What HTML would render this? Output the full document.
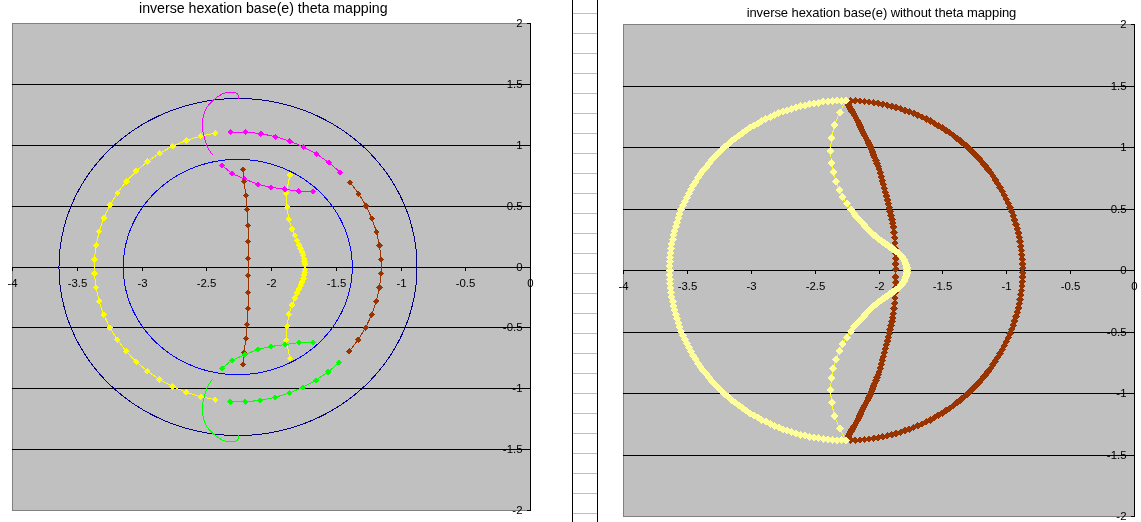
<!DOCTYPE html>
<html><head><meta charset="utf-8"><title>inverse hexation charts</title>
<style>html,body{margin:0;padding:0;background:#fff;overflow:hidden}svg text{font-family:"Liberation Sans", Arial, sans-serif}</style>
</head><body>
<svg width="1141" height="522" viewBox="0 0 1141 522" style="display:block">
<rect width="1141" height="522" fill="#fff"/>
<rect x="573" y="13" width="24" height="1" fill="#c0c0c0"/>
<rect x="573" y="33" width="24" height="1" fill="#c0c0c0"/>
<rect x="573" y="53" width="24" height="1" fill="#c0c0c0"/>
<rect x="573" y="73" width="24" height="1" fill="#c0c0c0"/>
<rect x="573" y="93" width="24" height="1" fill="#c0c0c0"/>
<rect x="573" y="113" width="24" height="1" fill="#c0c0c0"/>
<rect x="573" y="133" width="24" height="1" fill="#c0c0c0"/>
<rect x="573" y="153" width="24" height="1" fill="#c0c0c0"/>
<rect x="573" y="173" width="24" height="1" fill="#c0c0c0"/>
<rect x="573" y="193" width="24" height="1" fill="#c0c0c0"/>
<rect x="573" y="213" width="24" height="1" fill="#c0c0c0"/>
<rect x="573" y="233" width="24" height="1" fill="#c0c0c0"/>
<rect x="573" y="253" width="24" height="1" fill="#c0c0c0"/>
<rect x="573" y="273" width="24" height="1" fill="#c0c0c0"/>
<rect x="573" y="293" width="24" height="1" fill="#c0c0c0"/>
<rect x="573" y="313" width="24" height="1" fill="#c0c0c0"/>
<rect x="573" y="333" width="24" height="1" fill="#c0c0c0"/>
<rect x="573" y="353" width="24" height="1" fill="#c0c0c0"/>
<rect x="573" y="373" width="24" height="1" fill="#c0c0c0"/>
<rect x="573" y="393" width="24" height="1" fill="#c0c0c0"/>
<rect x="573" y="413" width="24" height="1" fill="#c0c0c0"/>
<rect x="573" y="433" width="24" height="1" fill="#c0c0c0"/>
<rect x="573" y="453" width="24" height="1" fill="#c0c0c0"/>
<rect x="573" y="473" width="24" height="1" fill="#c0c0c0"/>
<rect x="573" y="493" width="24" height="1" fill="#c0c0c0"/>
<rect x="573" y="513" width="24" height="1" fill="#c0c0c0"/>
<rect x="572" y="0" width="1" height="522" fill="#000"/>
<rect x="597" y="0" width="1" height="522" fill="#000"/>
<rect x="12" y="23" width="519" height="488" fill="#c0c0c0"/>
<rect x="12" y="23" width="519" height="1" fill="#808080"/>
<rect x="12" y="510" width="519" height="1" fill="#808080"/>
<rect x="12" y="23" width="1" height="488" fill="#808080"/>
<rect x="12" y="84" width="519" height="1" fill="#000"/>
<rect x="12" y="145" width="519" height="1" fill="#000"/>
<rect x="12" y="206" width="519" height="1" fill="#000"/>
<rect x="12" y="267" width="519" height="1" fill="#000"/>
<rect x="12" y="327" width="519" height="1" fill="#000"/>
<rect x="12" y="388" width="519" height="1" fill="#000"/>
<rect x="12" y="449" width="519" height="1" fill="#000"/>
<rect x="530" y="23" width="1" height="488" fill="#000"/>
<rect x="527" y="23" width="4" height="1" fill="#000"/>
<rect x="527" y="84" width="4" height="1" fill="#000"/>
<rect x="527" y="145" width="4" height="1" fill="#000"/>
<rect x="527" y="206" width="4" height="1" fill="#000"/>
<rect x="527" y="267" width="4" height="1" fill="#000"/>
<rect x="527" y="327" width="4" height="1" fill="#000"/>
<rect x="527" y="388" width="4" height="1" fill="#000"/>
<rect x="527" y="449" width="4" height="1" fill="#000"/>
<rect x="527" y="510" width="4" height="1" fill="#000"/>
<rect x="12" y="267" width="1" height="4" fill="#000"/>
<rect x="77" y="267" width="1" height="4" fill="#000"/>
<rect x="142" y="267" width="1" height="4" fill="#000"/>
<rect x="206" y="267" width="1" height="4" fill="#000"/>
<rect x="271" y="267" width="1" height="4" fill="#000"/>
<rect x="336" y="267" width="1" height="4" fill="#000"/>
<rect x="401" y="267" width="1" height="4" fill="#000"/>
<rect x="465" y="267" width="1" height="4" fill="#000"/>
<rect x="530" y="267" width="1" height="4" fill="#000"/>
<polyline points="417,267 416.94,262.59 416.75,258.18 416.45,253.78 416.02,249.39 415.47,245.01 414.8,240.64 414,236.29 413.09,231.97 412.05,227.66 410.9,223.39 409.63,219.14 408.24,214.93 406.73,210.75 405.11,206.62 403.37,202.52 401.52,198.46 399.56,194.46 397.49,190.5 395.31,186.6 393.02,182.75 390.62,178.96 388.12,175.23 385.52,171.56 382.81,167.96 380.01,164.42 377.11,160.96 374.11,157.57 371.02,154.25 367.84,151.01 364.57,147.85 361.22,144.77 357.77,141.78 354.25,138.87 350.65,136.05 346.97,133.32 343.21,130.68 339.39,128.13 335.49,125.68 331.53,123.33 327.5,121.07 323.41,118.92 319.26,116.87 315.06,114.91 310.81,113.07 306.5,111.33 302.15,109.69 297.75,108.16 293.31,106.75 288.84,105.44 284.33,104.24 279.79,103.16 275.22,102.18 270.62,101.32 266,100.57 261.36,99.94 256.71,99.42 252.04,99.02 247.37,98.73 242.69,98.56 238,98.5 233.31,98.56 228.63,98.73 223.96,99.02 219.29,99.42 214.64,99.94 210,100.57 205.38,101.32 200.78,102.18 196.21,103.16 191.67,104.24 187.16,105.44 182.69,106.75 178.25,108.16 173.85,109.69 169.5,111.33 165.19,113.07 160.94,114.91 156.74,116.87 152.59,118.92 148.5,121.07 144.47,123.33 140.51,125.68 136.61,128.13 132.79,130.68 129.03,133.32 125.35,136.05 121.75,138.87 118.23,141.78 114.78,144.77 111.43,147.85 108.16,151.01 104.98,154.25 101.89,157.57 98.89,160.96 95.99,164.42 93.19,167.96 90.48,171.56 87.88,175.23 85.38,178.96 82.98,182.75 80.69,186.6 78.51,190.5 76.44,194.46 74.48,198.46 72.63,202.52 70.89,206.62 69.27,210.75 67.76,214.93 66.37,219.14 65.1,223.39 63.95,227.66 62.91,231.97 62,236.29 61.2,240.64 60.53,245.01 59.98,249.39 59.55,253.78 59.25,258.18 59.06,262.59 59,267 59.06,271.41 59.25,275.82 59.55,280.22 59.98,284.61 60.53,288.99 61.2,293.36 62,297.71 62.91,302.03 63.95,306.34 65.1,310.61 66.37,314.86 67.76,319.07 69.27,323.25 70.89,327.38 72.63,331.48 74.48,335.54 76.44,339.54 78.51,343.5 80.69,347.4 82.98,351.25 85.38,355.04 87.88,358.77 90.48,362.44 93.19,366.04 95.99,369.58 98.89,373.04 101.89,376.43 104.98,379.75 108.16,382.99 111.43,386.15 114.78,389.23 118.23,392.22 121.75,395.13 125.35,397.95 129.03,400.68 132.79,403.32 136.61,405.87 140.51,408.32 144.47,410.67 148.5,412.93 152.59,415.08 156.74,417.13 160.94,419.09 165.19,420.93 169.5,422.67 173.85,424.31 178.25,425.84 182.69,427.25 187.16,428.56 191.67,429.76 196.21,430.84 200.78,431.82 205.38,432.68 210,433.43 214.64,434.06 219.29,434.58 223.96,434.98 228.63,435.27 233.31,435.44 238,435.5 242.69,435.44 247.37,435.27 252.04,434.98 256.71,434.58 261.36,434.06 266,433.43 270.62,432.68 275.22,431.82 279.79,430.84 284.33,429.76 288.84,428.56 293.31,427.25 297.75,425.84 302.15,424.31 306.5,422.67 310.81,420.93 315.06,419.09 319.26,417.13 323.41,415.08 327.5,412.93 331.53,410.67 335.49,408.32 339.39,405.87 343.21,403.32 346.97,400.68 350.65,397.95 354.25,395.13 357.77,392.22 361.22,389.23 364.57,386.15 367.84,382.99 371.02,379.75 374.11,376.43 377.11,373.04 380.01,369.58 382.81,366.04 385.52,362.44 388.12,358.77 390.62,355.04 393.02,351.25 395.31,347.4 397.49,343.5 399.56,339.54 401.52,335.54 403.37,331.48 405.11,327.38 406.73,323.25 408.24,319.07 409.63,314.86 410.9,310.61 412.05,306.34 413.09,302.03 414,297.71 414.8,293.36 415.47,288.99 416.02,284.61 416.45,280.22 416.75,275.82 416.94,271.41 417,267" fill="none" stroke="#000080" stroke-width="1" shape-rendering="crispEdges"/>
<polyline points="352.25,267 352.18,263.24 351.97,259.49 351.62,255.75 351.14,252.02 350.51,248.31 349.75,244.62 348.85,240.96 347.81,237.33 346.65,233.74 345.34,230.18 343.91,226.67 342.35,223.22 340.66,219.81 338.85,216.46 336.91,213.18 334.85,209.96 332.67,206.8 330.38,203.73 327.98,200.73 325.46,197.81 322.84,194.97 320.11,192.22 317.29,189.56 314.37,187 311.35,184.54 308.24,182.17 305.05,179.91 301.78,177.76 298.43,175.71 295,173.77 291.5,171.95 287.94,170.25 284.32,168.66 280.64,167.19 276.91,165.84 273.13,164.62 269.31,163.52 265.45,162.55 261.56,161.7 257.63,160.99 253.69,160.4 249.72,159.94 245.74,159.61 241.75,159.42 237.75,159.35 233.75,159.42 229.76,159.61 225.78,159.94 221.81,160.4 217.87,160.99 213.94,161.7 210.05,162.55 206.19,163.52 202.37,164.62 198.59,165.84 194.86,167.19 191.18,168.66 187.56,170.25 184,171.95 180.5,173.77 177.07,175.71 173.72,177.76 170.45,179.91 167.26,182.17 164.15,184.54 161.13,187 158.21,189.56 155.39,192.22 152.66,194.97 150.04,197.81 147.52,200.73 145.12,203.73 142.83,206.8 140.65,209.96 138.59,213.18 136.65,216.46 134.84,219.81 133.15,223.22 131.59,226.67 130.16,230.18 128.85,233.74 127.69,237.33 126.65,240.96 125.75,244.62 124.99,248.31 124.36,252.02 123.88,255.75 123.53,259.49 123.32,263.24 123.25,267 123.32,270.76 123.53,274.51 123.88,278.25 124.36,281.98 124.99,285.69 125.75,289.38 126.65,293.04 127.69,296.67 128.85,300.26 130.16,303.82 131.59,307.33 133.15,310.78 134.84,314.19 136.65,317.54 138.59,320.82 140.65,324.04 142.83,327.2 145.12,330.27 147.52,333.27 150.04,336.19 152.66,339.03 155.39,341.78 158.21,344.44 161.13,347 164.15,349.46 167.26,351.83 170.45,354.09 173.72,356.24 177.07,358.29 180.5,360.23 184,362.05 187.56,363.75 191.18,365.34 194.86,366.81 198.59,368.16 202.37,369.38 206.19,370.48 210.05,371.45 213.94,372.3 217.87,373.01 221.81,373.6 225.78,374.06 229.76,374.39 233.75,374.58 237.75,374.65 241.75,374.58 245.74,374.39 249.72,374.06 253.69,373.6 257.63,373.01 261.56,372.3 265.45,371.45 269.31,370.48 273.13,369.38 276.91,368.16 280.64,366.81 284.32,365.34 287.94,363.75 291.5,362.05 295,360.23 298.43,358.29 301.78,356.24 305.05,354.09 308.24,351.83 311.35,349.46 314.37,347 317.29,344.44 320.11,341.78 322.84,339.03 325.46,336.19 327.98,333.27 330.38,330.27 332.67,327.2 334.85,324.04 336.91,320.82 338.85,317.54 340.66,314.19 342.35,310.78 343.91,307.33 345.34,303.82 346.65,300.26 347.81,296.67 348.85,293.04 349.75,289.38 350.51,285.69 351.14,281.98 351.62,278.25 351.97,274.51 352.18,270.76 352.25,267" fill="none" stroke="#0000ff" stroke-width="1" shape-rendering="crispEdges"/>
<polyline points="215.3,133.15 200.61,136.08 186.32,140.45 172.6,146.19 159.59,153.25 147.44,161.55 136.28,171 126.23,181.5 117.4,192.92 109.89,205.15 103.78,218.05 99.14,231.48 96.02,245.3 94.45,259.34 94.45,273.46 96.02,287.5 99.14,301.32 103.78,314.75 109.89,327.65 117.4,339.88 126.23,351.3 136.28,361.8 147.44,371.25 159.59,379.55 172.6,386.61 186.32,392.35 200.61,396.72 215.3,399.65" fill="none" stroke="#ffff00" stroke-width="1" shape-rendering="crispEdges"/>
<polyline points="289.9,175.2 286.2,193.4 287.1,207.4 288.8,219.4 291.9,228.9 295,235.6 297,240.6 299,245 300.6,248.6 302,252 303.3,255.3 304.1,258.7 304.7,261.5 305,264.3 305,269.5 304.7,272.3 304.1,275.1 303.3,278.5 302,281.8 300.6,285.2 299,288.8 297,293.2 295,298.2 291.9,304.9 288.8,314.4 287.1,326.4 286.2,340.4 289.9,358.6" fill="none" stroke="#ffff00" stroke-width="1" shape-rendering="crispEdges"/>
<path d="M212 133.15L215.3 129.85L218.6 133.15L215.3 136.45ZM197.31 136.08L200.61 132.78L203.91 136.08L200.61 139.38ZM183.02 140.45L186.32 137.15L189.62 140.45L186.32 143.75ZM169.3 146.19L172.6 142.89L175.9 146.19L172.6 149.49ZM156.29 153.25L159.59 149.95L162.89 153.25L159.59 156.55ZM144.14 161.55L147.44 158.25L150.74 161.55L147.44 164.85ZM132.98 171L136.28 167.7L139.58 171L136.28 174.3ZM122.93 181.5L126.23 178.2L129.53 181.5L126.23 184.8ZM114.1 192.92L117.4 189.62L120.7 192.92L117.4 196.22ZM106.59 205.15L109.89 201.85L113.19 205.15L109.89 208.45ZM100.48 218.05L103.78 214.75L107.08 218.05L103.78 221.35ZM95.84 231.48L99.14 228.18L102.44 231.48L99.14 234.78ZM92.72 245.3L96.02 242L99.32 245.3L96.02 248.6ZM91.15 259.34L94.45 256.04L97.75 259.34L94.45 262.64ZM91.15 273.46L94.45 270.16L97.75 273.46L94.45 276.76ZM92.72 287.5L96.02 284.2L99.32 287.5L96.02 290.8ZM95.84 301.32L99.14 298.02L102.44 301.32L99.14 304.62ZM100.48 314.75L103.78 311.45L107.08 314.75L103.78 318.05ZM106.59 327.65L109.89 324.35L113.19 327.65L109.89 330.95ZM114.1 339.88L117.4 336.58L120.7 339.88L117.4 343.18ZM122.93 351.3L126.23 348L129.53 351.3L126.23 354.6ZM132.98 361.8L136.28 358.5L139.58 361.8L136.28 365.1ZM144.14 371.25L147.44 367.95L150.74 371.25L147.44 374.55ZM156.29 379.55L159.59 376.25L162.89 379.55L159.59 382.85ZM169.3 386.61L172.6 383.31L175.9 386.61L172.6 389.91ZM183.02 392.35L186.32 389.05L189.62 392.35L186.32 395.65ZM197.31 396.72L200.61 393.42L203.91 396.72L200.61 400.02ZM212 399.65L215.3 396.35L218.6 399.65L215.3 402.95ZM286.6 175.2L289.9 171.9L293.2 175.2L289.9 178.5ZM282.9 193.4L286.2 190.1L289.5 193.4L286.2 196.7ZM283.8 207.4L287.1 204.1L290.4 207.4L287.1 210.7ZM285.5 219.4L288.8 216.1L292.1 219.4L288.8 222.7ZM288.6 228.9L291.9 225.6L295.2 228.9L291.9 232.2ZM291.7 235.6L295 232.3L298.3 235.6L295 238.9ZM293.7 240.6L297 237.3L300.3 240.6L297 243.9ZM295.7 245L299 241.7L302.3 245L299 248.3ZM297.3 248.6L300.6 245.3L303.9 248.6L300.6 251.9ZM298.7 252L302 248.7L305.3 252L302 255.3ZM300 255.3L303.3 252L306.6 255.3L303.3 258.6ZM300.8 258.7L304.1 255.4L307.4 258.7L304.1 262ZM301.4 261.5L304.7 258.2L308 261.5L304.7 264.8ZM301.7 264.3L305 261L308.3 264.3L305 267.6ZM301.7 269.5L305 266.2L308.3 269.5L305 272.8ZM301.4 272.3L304.7 269L308 272.3L304.7 275.6ZM300.8 275.1L304.1 271.8L307.4 275.1L304.1 278.4ZM300 278.5L303.3 275.2L306.6 278.5L303.3 281.8ZM298.7 281.8L302 278.5L305.3 281.8L302 285.1ZM297.3 285.2L300.6 281.9L303.9 285.2L300.6 288.5ZM295.7 288.8L299 285.5L302.3 288.8L299 292.1ZM293.7 293.2L297 289.9L300.3 293.2L297 296.5ZM291.7 298.2L295 294.9L298.3 298.2L295 301.5ZM288.6 304.9L291.9 301.6L295.2 304.9L291.9 308.2ZM285.5 314.4L288.8 311.1L292.1 314.4L288.8 317.7ZM283.8 326.4L287.1 323.1L290.4 326.4L287.1 329.7ZM282.9 340.4L286.2 337.1L289.5 340.4L286.2 343.7ZM286.6 358.6L289.9 355.3L293.2 358.6L289.9 361.9Z" fill="#ffff00" shape-rendering="crispEdges"/>
<polyline points="340.1,172.24 328.93,162.62 316.74,154.17 303.68,146.97 289.88,141.1 275.49,136.64 260.69,133.62 245.64,132.09 230.49,132.06" fill="none" stroke="#ff00ff" stroke-width="1" shape-rendering="crispEdges"/>
<polyline points="221.9,165.4 232,173.5 244.7,179.1 257.9,184.3 270.9,187.3 284.9,189.2 298.8,191.2 313,191.3" fill="none" stroke="#ff00ff" stroke-width="1" shape-rendering="crispEdges"/>
<path d="M337 172.24L340.1 169.14L343.2 172.24L340.1 175.34ZM325.83 162.62L328.93 159.52L332.03 162.62L328.93 165.72ZM313.64 154.17L316.74 151.07L319.84 154.17L316.74 157.27ZM300.58 146.97L303.68 143.87L306.78 146.97L303.68 150.07ZM286.78 141.1L289.88 138L292.98 141.1L289.88 144.2ZM272.39 136.64L275.49 133.54L278.59 136.64L275.49 139.74ZM257.59 133.62L260.69 130.52L263.79 133.62L260.69 136.72ZM242.54 132.09L245.64 128.99L248.74 132.09L245.64 135.19ZM227.39 132.06L230.49 128.96L233.59 132.06L230.49 135.16ZM218.8 165.4L221.9 162.3L225 165.4L221.9 168.5ZM228.9 173.5L232 170.4L235.1 173.5L232 176.6ZM241.6 179.1L244.7 176L247.8 179.1L244.7 182.2ZM254.8 184.3L257.9 181.2L261 184.3L257.9 187.4ZM267.8 187.3L270.9 184.2L274 187.3L270.9 190.4ZM281.8 189.2L284.9 186.1L288 189.2L284.9 192.3ZM295.7 191.2L298.8 188.1L301.9 191.2L298.8 194.3ZM309.9 191.3L313 188.2L316.1 191.3L313 194.4Z" fill="#ff00ff" shape-rendering="crispEdges"/>
<polyline points="238,98.6 238.51,97.65 238.65,96.65 238.46,95.67 238.01,94.75 237.36,93.95 236.56,93.32 235.65,92.86 234.69,92.54 233.7,92.36 232.69,92.27 231.69,92.26 230.67,92.28 229.66,92.31 228.64,92.35 227.64,92.41 226.64,92.52 225.66,92.72 224.69,93 223.75,93.36 222.81,93.76 221.9,94.2 221,94.66 220.12,95.15 219.26,95.67 218.42,96.22 217.6,96.8 216.8,97.41 216.01,98.03 215.23,98.67 214.46,99.32 213.69,99.98 212.92,100.64 212.16,101.31 211.41,102 210.68,102.69 209.97,103.41 209.29,104.15 208.65,104.92 208.04,105.71 207.47,106.54 206.94,107.4 206.44,108.27 205.97,109.17 205.53,110.09 205.12,111.02 204.74,111.96 204.38,112.9 204.04,113.86 203.74,114.82 203.47,115.8 203.23,116.77 203.03,117.76 202.86,118.75 202.74,119.75 202.65,120.75 202.58,121.76 202.54,122.76 202.51,123.77 202.48,124.78 202.47,125.79 202.47,126.8 202.51,127.81 202.58,128.81 202.7,129.81 202.86,130.8 203.04,131.79 203.25,132.78 203.46,133.77 203.67,134.76 203.88,135.74 204.1,136.72 204.33,137.7 204.57,138.68 204.83,139.65 205.11,140.62 205.4,141.59 205.72,142.54 206.06,143.49 206.41,144.44 206.8,145.37 207.2,146.29 207.63,147.21 208.09,148.11 208.57,148.99 209.07,149.86 209.61,150.72 210.17,151.55 210.76,152.37 211.38,153.17 212.02,153.95 212.7,154.7" fill="none" stroke="#ff00ff" stroke-width="1" shape-rendering="crispEdges"/>
<polyline points="349.27,351.3 358.1,339.88 365.61,327.65 371.72,314.75 376.36,301.32 379.48,287.5 381.05,273.46 381.05,259.34 379.52,245.53 376.49,231.94 371.99,218.71 366.06,205.99 358.78,193.91 350.21,182.6" fill="none" stroke="#993300" stroke-width="1" shape-rendering="crispEdges"/>
<polyline points="243,169.5 244,181.5 245.9,195.3 247,209.4 248.05,225.5 248.05,241.5 248.05,258.4 248.05,275.4 248.05,292.3 248.05,308.3 247,324.4 245.9,338.5 244,352.3 243,364.3" fill="none" stroke="#993300" stroke-width="1" shape-rendering="crispEdges"/>
<path d="M346.17 351.3L349.27 348.2L352.37 351.3L349.27 354.4ZM355 339.88L358.1 336.78L361.2 339.88L358.1 342.98ZM362.51 327.65L365.61 324.55L368.71 327.65L365.61 330.75ZM368.62 314.75L371.72 311.65L374.82 314.75L371.72 317.85ZM373.26 301.32L376.36 298.22L379.46 301.32L376.36 304.42ZM376.38 287.5L379.48 284.4L382.58 287.5L379.48 290.6ZM377.95 273.46L381.05 270.36L384.15 273.46L381.05 276.56ZM377.95 259.34L381.05 256.24L384.15 259.34L381.05 262.44ZM376.42 245.53L379.52 242.43L382.62 245.53L379.52 248.63ZM373.39 231.94L376.49 228.84L379.59 231.94L376.49 235.04ZM368.89 218.71L371.99 215.61L375.09 218.71L371.99 221.81ZM362.96 205.99L366.06 202.89L369.16 205.99L366.06 209.09ZM355.68 193.91L358.78 190.81L361.88 193.91L358.78 197.01ZM347.11 182.6L350.21 179.5L353.31 182.6L350.21 185.7ZM239.9 169.5L243 166.4L246.1 169.5L243 172.6ZM240.9 181.5L244 178.4L247.1 181.5L244 184.6ZM242.8 195.3L245.9 192.2L249 195.3L245.9 198.4ZM243.9 209.4L247 206.3L250.1 209.4L247 212.5ZM244.95 225.5L248.05 222.4L251.15 225.5L248.05 228.6ZM244.95 241.5L248.05 238.4L251.15 241.5L248.05 244.6ZM244.95 258.4L248.05 255.3L251.15 258.4L248.05 261.5ZM244.95 275.4L248.05 272.3L251.15 275.4L248.05 278.5ZM244.95 292.3L248.05 289.2L251.15 292.3L248.05 295.4ZM244.95 308.3L248.05 305.2L251.15 308.3L248.05 311.4ZM243.9 324.4L247 321.3L250.1 324.4L247 327.5ZM242.8 338.5L245.9 335.4L249 338.5L245.9 341.6ZM240.9 352.3L244 349.2L247.1 352.3L244 355.4ZM239.9 364.3L243 361.2L246.1 364.3L243 367.4Z" fill="#993300" shape-rendering="crispEdges"/>
<polyline points="339.22,362.5 328.06,371.95 315.91,380.25 302.9,387.31 289.18,393.05 274.89,397.42 260.2,400.35 245.26,401.83 230.24,401.83" fill="none" stroke="#00ff00" stroke-width="1" shape-rendering="crispEdges"/>
<polyline points="221.9,368.4 232,360.3 244.7,354.7 257.9,349.5 270.9,346.5 284.9,344.6 298.8,342.6 313,342.5" fill="none" stroke="#00ff00" stroke-width="1" shape-rendering="crispEdges"/>
<path d="M336.12 362.5L339.22 359.4L342.32 362.5L339.22 365.6ZM324.96 371.95L328.06 368.85L331.16 371.95L328.06 375.05ZM312.81 380.25L315.91 377.15L319.01 380.25L315.91 383.35ZM299.8 387.31L302.9 384.21L306 387.31L302.9 390.41ZM286.08 393.05L289.18 389.95L292.28 393.05L289.18 396.15ZM271.79 397.42L274.89 394.32L277.99 397.42L274.89 400.52ZM257.1 400.35L260.2 397.25L263.3 400.35L260.2 403.45ZM242.16 401.83L245.26 398.73L248.36 401.83L245.26 404.93ZM227.14 401.83L230.24 398.73L233.34 401.83L230.24 404.93ZM218.8 368.4L221.9 365.3L225 368.4L221.9 371.5ZM228.9 360.3L232 357.2L235.1 360.3L232 363.4ZM241.6 354.7L244.7 351.6L247.8 354.7L244.7 357.8ZM254.8 349.5L257.9 346.4L261 349.5L257.9 352.6ZM267.8 346.5L270.9 343.4L274 346.5L270.9 349.6ZM281.8 344.6L284.9 341.5L288 344.6L284.9 347.7ZM295.7 342.6L298.8 339.5L301.9 342.6L298.8 345.7ZM309.9 342.5L313 339.4L316.1 342.5L313 345.6Z" fill="#00ff00" shape-rendering="crispEdges"/>
<polyline points="238,435.4 238.51,436.35 238.65,437.35 238.46,438.33 238.01,439.25 237.36,440.05 236.56,440.68 235.65,441.14 234.69,441.46 233.7,441.64 232.69,441.73 231.69,441.74 230.67,441.72 229.66,441.69 228.64,441.65 227.64,441.59 226.64,441.48 225.66,441.28 224.69,441 223.75,440.64 222.81,440.24 221.9,439.8 221,439.34 220.12,438.85 219.26,438.33 218.42,437.78 217.6,437.2 216.8,436.59 216.01,435.97 215.23,435.33 214.46,434.68 213.69,434.02 212.92,433.36 212.16,432.69 211.41,432 210.68,431.31 209.97,430.59 209.29,429.85 208.65,429.08 208.04,428.29 207.47,427.46 206.94,426.6 206.44,425.73 205.97,424.83 205.53,423.91 205.12,422.98 204.74,422.04 204.38,421.1 204.04,420.14 203.74,419.18 203.47,418.2 203.23,417.23 203.03,416.24 202.86,415.25 202.74,414.25 202.65,413.25 202.58,412.24 202.54,411.24 202.51,410.23 202.48,409.22 202.47,408.21 202.47,407.2 202.51,406.19 202.58,405.19 202.7,404.19 202.86,403.2 203.04,402.21 203.25,401.22 203.46,400.23 203.67,399.24 203.88,398.26 204.1,397.28 204.33,396.3 204.57,395.32 204.83,394.35 205.11,393.38 205.4,392.41 205.72,391.46 206.06,390.51 206.41,389.56 206.8,388.63 207.2,387.71 207.63,386.79 208.09,385.89 208.57,385.01 209.07,384.14 209.61,383.28 210.17,382.45 210.76,381.63 211.38,380.83 212.02,380.05 212.7,379.3" fill="none" stroke="#00ff00" stroke-width="1" shape-rendering="crispEdges"/>
<text x="12.5" y="287" font-size="11.4" text-anchor="middle" fill="#000">-4</text>
<text x="77.5" y="287" font-size="11.4" text-anchor="middle" fill="#000">-3.5</text>
<text x="142.5" y="287" font-size="11.4" text-anchor="middle" fill="#000">-3</text>
<text x="206.5" y="287" font-size="11.4" text-anchor="middle" fill="#000">-2.5</text>
<text x="271.5" y="287" font-size="11.4" text-anchor="middle" fill="#000">-2</text>
<text x="336.5" y="287" font-size="11.4" text-anchor="middle" fill="#000">-1.5</text>
<text x="401.5" y="287" font-size="11.4" text-anchor="middle" fill="#000">-1</text>
<text x="465.5" y="287" font-size="11.4" text-anchor="middle" fill="#000">-0.5</text>
<text x="530.5" y="287" font-size="11.4" text-anchor="middle" fill="#000">0</text>
<text x="522.5" y="26.6" font-size="11.4" text-anchor="end" fill="#000">2</text>
<text x="522.5" y="87.6" font-size="11.4" text-anchor="end" fill="#000">1.5</text>
<text x="522.5" y="148.6" font-size="11.4" text-anchor="end" fill="#000">1</text>
<text x="522.5" y="209.6" font-size="11.4" text-anchor="end" fill="#000">0.5</text>
<text x="522.5" y="270.6" font-size="11.4" text-anchor="end" fill="#000">0</text>
<text x="522.5" y="330.6" font-size="11.4" text-anchor="end" fill="#000">-0.5</text>
<text x="522.5" y="391.6" font-size="11.4" text-anchor="end" fill="#000">-1</text>
<text x="522.5" y="452.6" font-size="11.4" text-anchor="end" fill="#000">-1.5</text>
<text x="522.5" y="513.6" font-size="11.4" text-anchor="end" fill="#000">-2</text>
<text x="263.3" y="12.6" font-size="14.2" text-anchor="middle" textLength="248.5" lengthAdjust="spacing" fill="#000">inverse hexation base(e) theta mapping</text>
<rect x="623" y="24" width="512" height="493" fill="#c0c0c0"/>
<rect x="623" y="24" width="512" height="1" fill="#808080"/>
<rect x="623" y="516" width="512" height="1" fill="#808080"/>
<rect x="623" y="24" width="1" height="493" fill="#808080"/>
<rect x="623" y="86" width="512" height="1" fill="#000"/>
<rect x="623" y="147" width="512" height="1" fill="#000"/>
<rect x="623" y="209" width="512" height="1" fill="#000"/>
<rect x="623" y="270" width="512" height="1" fill="#000"/>
<rect x="623" y="332" width="512" height="1" fill="#000"/>
<rect x="623" y="393" width="512" height="1" fill="#000"/>
<rect x="623" y="455" width="512" height="1" fill="#000"/>
<rect x="1134" y="24" width="1" height="493" fill="#000"/>
<rect x="1131" y="24" width="4" height="1" fill="#000"/>
<rect x="1131" y="86" width="4" height="1" fill="#000"/>
<rect x="1131" y="147" width="4" height="1" fill="#000"/>
<rect x="1131" y="209" width="4" height="1" fill="#000"/>
<rect x="1131" y="270" width="4" height="1" fill="#000"/>
<rect x="1131" y="332" width="4" height="1" fill="#000"/>
<rect x="1131" y="393" width="4" height="1" fill="#000"/>
<rect x="1131" y="455" width="4" height="1" fill="#000"/>
<rect x="1131" y="516" width="4" height="1" fill="#000"/>
<rect x="623" y="270" width="1" height="4" fill="#000"/>
<rect x="687" y="270" width="1" height="4" fill="#000"/>
<rect x="751" y="270" width="1" height="4" fill="#000"/>
<rect x="815" y="270" width="1" height="4" fill="#000"/>
<rect x="879" y="270" width="1" height="4" fill="#000"/>
<rect x="942" y="270" width="1" height="4" fill="#000"/>
<rect x="1006" y="270" width="1" height="4" fill="#000"/>
<rect x="1070" y="270" width="1" height="4" fill="#000"/>
<rect x="1134" y="270" width="1" height="4" fill="#000"/>
<polyline points="846.1,440.5 850.72,440.44 855.34,440.27 859.95,439.98 864.55,439.57 869.14,439.05 873.71,438.41 878.26,437.65 882.8,436.79 887.3,435.8 891.78,434.71 896.23,433.5 900.64,432.18 905.02,430.75 909.35,429.21 913.64,427.56 917.89,425.8 922.09,423.94 926.23,421.97 930.32,419.9 934.35,417.72 938.32,415.45 942.23,413.07 946.07,410.6 949.84,408.03 953.55,405.37 957.18,402.61 959.79,400.54 960.96,399.58 962.13,398.61 963.28,397.63 964.43,396.64 965.57,395.64 966.7,394.63 967.82,393.61 968.93,392.58 970.03,391.54 971.12,390.5 972.2,389.44 973.28,388.38 974.34,387.3 975.39,386.22 976.44,385.13 977.47,384.03 978.49,382.92 979.51,381.81 980.51,380.68 981.5,379.55 982.49,378.4 983.46,377.25 984.42,376.1 985.37,374.93 986.31,373.75 987.24,372.57 988.16,371.38 990.24,368.61 992.85,364.95 995.37,361.21 997.79,357.42 1000.1,353.57 1002.3,349.65 1004.4,345.69 1006.39,341.67 1008.27,337.61 1010.03,333.49 1011.69,329.34 1013.23,325.14 1014.66,320.91 1015.97,316.64 1017.17,312.35 1018.25,308.02 1019.21,303.67 1020.05,299.29 1020.77,294.89 1021.38,290.48 1021.86,286.06 1022.22,281.62 1022.46,277.17 1022.58,272.73 1022.58,268.27 1022.46,263.83 1022.22,259.38 1021.86,254.94 1021.38,250.52 1020.77,246.11 1020.05,241.71 1019.21,237.33 1018.25,232.98 1017.17,228.65 1015.97,224.36 1014.66,220.09 1013.23,215.86 1011.69,211.66 1010.03,207.51 1008.27,203.39 1006.39,199.33 1004.4,195.31 1002.3,191.35 1000.1,187.43 997.79,183.58 995.37,179.79 992.85,176.05 990.24,172.39 988.16,169.62 987.24,168.43 986.31,167.25 985.37,166.07 984.42,164.9 983.46,163.75 982.49,162.6 981.5,161.45 980.51,160.32 979.51,159.19 978.49,158.08 977.47,156.97 976.44,155.87 975.39,154.78 974.34,153.7 973.28,152.62 972.2,151.56 971.12,150.5 970.03,149.46 968.93,148.42 967.82,147.39 966.7,146.37 965.57,145.36 964.43,144.36 963.28,143.37 962.13,142.39 960.96,141.42 959.79,140.46 957.18,138.39 953.55,135.63 949.84,132.97 946.07,130.4 942.23,127.93 938.32,125.55 934.35,123.28 930.32,121.1 926.23,119.03 922.09,117.06 917.89,115.2 913.64,113.44 909.35,111.79 905.02,110.25 900.64,108.82 896.23,107.5 891.78,106.29 887.3,105.2 882.8,104.21 878.26,103.35 873.71,102.59 869.14,101.95 864.55,101.43 859.95,101.02 855.34,100.73 850.72,100.56 846.1,100.5" fill="none" stroke="#993300" stroke-width="1" shape-rendering="crispEdges"/>
<polyline points="846,100.6 847.32,102.73 848.59,104.89 849.82,107.07 851.02,109.26 852.23,111.45 853.45,113.64 854.71,115.81 855.97,117.97 857.18,120.16 858.27,122.41 859.26,124.71 860.25,127.01 861.3,129.28 862.44,131.51 863.63,133.72 864.84,135.91 866.04,138.11 867.21,140.33 868.34,142.56 869.43,144.81 870.47,147.09 871.47,149.38 872.6,152.16 873.71,154.96 874.81,157.76 875.92,160.55 877.04,163.34 878.14,166.14 879.15,168.96 880.34,172.78 881.37,176.65 882.34,180.55 883.31,184.43 884.29,188.32 885.28,192.2 886.28,196.07 887.27,199.96 888.24,203.84 889.2,207.73 890.12,211.63 891.01,215.53 891.88,219.44 892.72,223.36 893.49,227.29 894.25,232.49 894.74,237.73 895.08,242.98 895.33,248.23 895.52,253.48 895.66,258.74 895.75,263.99 895.79,269.25 895.75,277.01 895.66,282.26 895.52,287.52 895.33,292.77 895.08,298.02 894.74,303.27 894.25,308.51 893.49,313.71 892.72,317.64 891.88,321.56 891.01,325.47 890.12,329.37 889.2,333.27 888.24,337.16 887.27,341.04 886.28,344.93 885.28,348.8 884.29,352.68 883.31,356.57 882.34,360.45 881.37,364.35 880.34,368.22 879.15,372.04 878.14,374.86 877.04,377.66 875.92,380.45 874.81,383.24 873.71,386.04 872.6,388.84 871.47,391.62 870.47,393.91 869.43,396.19 868.34,398.44 867.21,400.67 866.04,402.89 864.84,405.09 863.63,407.28 862.44,409.49 861.3,411.72 860.25,413.99 859.26,416.29 858.27,418.59 857.18,420.84 855.97,423.03 854.71,425.19 853.45,427.36 852.23,429.55 851.02,431.74 849.82,433.93 848.59,436.11 847.32,438.27 846,440.4" fill="none" stroke="#993300" stroke-width="1" shape-rendering="crispEdges"/>
<path d="M842.3 440.5L846.1 436.7L849.9 440.5L846.1 444.3ZM846.92 440.44L850.72 436.64L854.52 440.44L850.72 444.24ZM851.54 440.27L855.34 436.47L859.14 440.27L855.34 444.07ZM856.15 439.98L859.95 436.18L863.75 439.98L859.95 443.78ZM860.75 439.57L864.55 435.77L868.35 439.57L864.55 443.37ZM865.34 439.05L869.14 435.25L872.94 439.05L869.14 442.85ZM869.91 438.41L873.71 434.61L877.51 438.41L873.71 442.21ZM874.46 437.65L878.26 433.85L882.06 437.65L878.26 441.45ZM879 436.79L882.8 432.99L886.6 436.79L882.8 440.59ZM883.5 435.8L887.3 432L891.1 435.8L887.3 439.6ZM887.98 434.71L891.78 430.91L895.58 434.71L891.78 438.51ZM892.43 433.5L896.23 429.7L900.03 433.5L896.23 437.3ZM896.84 432.18L900.64 428.38L904.44 432.18L900.64 435.98ZM901.22 430.75L905.02 426.95L908.82 430.75L905.02 434.55ZM905.55 429.21L909.35 425.41L913.15 429.21L909.35 433.01ZM909.84 427.56L913.64 423.76L917.44 427.56L913.64 431.36ZM914.09 425.8L917.89 422L921.69 425.8L917.89 429.6ZM918.29 423.94L922.09 420.14L925.89 423.94L922.09 427.74ZM922.43 421.97L926.23 418.17L930.03 421.97L926.23 425.77ZM926.52 419.9L930.32 416.1L934.12 419.9L930.32 423.7ZM930.55 417.72L934.35 413.92L938.15 417.72L934.35 421.52ZM934.52 415.45L938.32 411.65L942.12 415.45L938.32 419.25ZM938.43 413.07L942.23 409.27L946.03 413.07L942.23 416.87ZM942.27 410.6L946.07 406.8L949.87 410.6L946.07 414.4ZM946.04 408.03L949.84 404.23L953.64 408.03L949.84 411.83ZM949.75 405.37L953.55 401.57L957.35 405.37L953.55 409.17ZM953.38 402.61L957.18 398.81L960.98 402.61L957.18 406.41ZM955.99 400.54L959.79 396.74L963.59 400.54L959.79 404.34ZM957.16 399.58L960.96 395.78L964.76 399.58L960.96 403.38ZM958.33 398.61L962.13 394.81L965.93 398.61L962.13 402.41ZM959.48 397.63L963.28 393.83L967.08 397.63L963.28 401.43ZM960.63 396.64L964.43 392.84L968.23 396.64L964.43 400.44ZM961.77 395.64L965.57 391.84L969.37 395.64L965.57 399.44ZM962.9 394.63L966.7 390.83L970.5 394.63L966.7 398.43ZM964.02 393.61L967.82 389.81L971.62 393.61L967.82 397.41ZM965.13 392.58L968.93 388.78L972.73 392.58L968.93 396.38ZM966.23 391.54L970.03 387.74L973.83 391.54L970.03 395.34ZM967.32 390.5L971.12 386.7L974.92 390.5L971.12 394.3ZM968.4 389.44L972.2 385.64L976 389.44L972.2 393.24ZM969.48 388.38L973.28 384.58L977.08 388.38L973.28 392.18ZM970.54 387.3L974.34 383.5L978.14 387.3L974.34 391.1ZM971.59 386.22L975.39 382.42L979.19 386.22L975.39 390.02ZM972.64 385.13L976.44 381.33L980.24 385.13L976.44 388.93ZM973.67 384.03L977.47 380.23L981.27 384.03L977.47 387.83ZM974.69 382.92L978.49 379.12L982.29 382.92L978.49 386.72ZM975.71 381.81L979.51 378.01L983.31 381.81L979.51 385.61ZM976.71 380.68L980.51 376.88L984.31 380.68L980.51 384.48ZM977.7 379.55L981.5 375.75L985.3 379.55L981.5 383.35ZM978.69 378.4L982.49 374.6L986.29 378.4L982.49 382.2ZM979.66 377.25L983.46 373.45L987.26 377.25L983.46 381.05ZM980.62 376.1L984.42 372.3L988.22 376.1L984.42 379.9ZM981.57 374.93L985.37 371.13L989.17 374.93L985.37 378.73ZM982.51 373.75L986.31 369.95L990.11 373.75L986.31 377.55ZM983.44 372.57L987.24 368.77L991.04 372.57L987.24 376.37ZM984.36 371.38L988.16 367.58L991.96 371.38L988.16 375.18ZM986.44 368.61L990.24 364.81L994.04 368.61L990.24 372.41ZM989.05 364.95L992.85 361.15L996.65 364.95L992.85 368.75ZM991.57 361.21L995.37 357.41L999.17 361.21L995.37 365.01ZM993.99 357.42L997.79 353.62L1001.59 357.42L997.79 361.22ZM996.3 353.57L1000.1 349.77L1003.9 353.57L1000.1 357.37ZM998.5 349.65L1002.3 345.85L1006.1 349.65L1002.3 353.45ZM1000.6 345.69L1004.4 341.89L1008.2 345.69L1004.4 349.49ZM1002.59 341.67L1006.39 337.87L1010.19 341.67L1006.39 345.47ZM1004.47 337.61L1008.27 333.81L1012.07 337.61L1008.27 341.41ZM1006.23 333.49L1010.03 329.69L1013.83 333.49L1010.03 337.29ZM1007.89 329.34L1011.69 325.54L1015.49 329.34L1011.69 333.14ZM1009.43 325.14L1013.23 321.34L1017.03 325.14L1013.23 328.94ZM1010.86 320.91L1014.66 317.11L1018.46 320.91L1014.66 324.71ZM1012.17 316.64L1015.97 312.84L1019.77 316.64L1015.97 320.44ZM1013.37 312.35L1017.17 308.55L1020.97 312.35L1017.17 316.15ZM1014.45 308.02L1018.25 304.22L1022.05 308.02L1018.25 311.82ZM1015.41 303.67L1019.21 299.87L1023.01 303.67L1019.21 307.47ZM1016.25 299.29L1020.05 295.49L1023.85 299.29L1020.05 303.09ZM1016.97 294.89L1020.77 291.09L1024.57 294.89L1020.77 298.69ZM1017.58 290.48L1021.38 286.68L1025.18 290.48L1021.38 294.28ZM1018.06 286.06L1021.86 282.26L1025.66 286.06L1021.86 289.86ZM1018.42 281.62L1022.22 277.82L1026.02 281.62L1022.22 285.42ZM1018.66 277.17L1022.46 273.37L1026.26 277.17L1022.46 280.97ZM1018.78 272.73L1022.58 268.93L1026.38 272.73L1022.58 276.53ZM1018.78 268.27L1022.58 264.47L1026.38 268.27L1022.58 272.07ZM1018.66 263.83L1022.46 260.03L1026.26 263.83L1022.46 267.63ZM1018.42 259.38L1022.22 255.58L1026.02 259.38L1022.22 263.18ZM1018.06 254.94L1021.86 251.14L1025.66 254.94L1021.86 258.74ZM1017.58 250.52L1021.38 246.72L1025.18 250.52L1021.38 254.32ZM1016.97 246.11L1020.77 242.31L1024.57 246.11L1020.77 249.91ZM1016.25 241.71L1020.05 237.91L1023.85 241.71L1020.05 245.51ZM1015.41 237.33L1019.21 233.53L1023.01 237.33L1019.21 241.13ZM1014.45 232.98L1018.25 229.18L1022.05 232.98L1018.25 236.78ZM1013.37 228.65L1017.17 224.85L1020.97 228.65L1017.17 232.45ZM1012.17 224.36L1015.97 220.56L1019.77 224.36L1015.97 228.16ZM1010.86 220.09L1014.66 216.29L1018.46 220.09L1014.66 223.89ZM1009.43 215.86L1013.23 212.06L1017.03 215.86L1013.23 219.66ZM1007.89 211.66L1011.69 207.86L1015.49 211.66L1011.69 215.46ZM1006.23 207.51L1010.03 203.71L1013.83 207.51L1010.03 211.31ZM1004.47 203.39L1008.27 199.59L1012.07 203.39L1008.27 207.19ZM1002.59 199.33L1006.39 195.53L1010.19 199.33L1006.39 203.13ZM1000.6 195.31L1004.4 191.51L1008.2 195.31L1004.4 199.11ZM998.5 191.35L1002.3 187.55L1006.1 191.35L1002.3 195.15ZM996.3 187.43L1000.1 183.63L1003.9 187.43L1000.1 191.23ZM993.99 183.58L997.79 179.78L1001.59 183.58L997.79 187.38ZM991.57 179.79L995.37 175.99L999.17 179.79L995.37 183.59ZM989.05 176.05L992.85 172.25L996.65 176.05L992.85 179.85ZM986.44 172.39L990.24 168.59L994.04 172.39L990.24 176.19ZM984.36 169.62L988.16 165.82L991.96 169.62L988.16 173.42ZM983.44 168.43L987.24 164.63L991.04 168.43L987.24 172.23ZM982.51 167.25L986.31 163.45L990.11 167.25L986.31 171.05ZM981.57 166.07L985.37 162.27L989.17 166.07L985.37 169.87ZM980.62 164.9L984.42 161.1L988.22 164.9L984.42 168.7ZM979.66 163.75L983.46 159.95L987.26 163.75L983.46 167.55ZM978.69 162.6L982.49 158.8L986.29 162.6L982.49 166.4ZM977.7 161.45L981.5 157.65L985.3 161.45L981.5 165.25ZM976.71 160.32L980.51 156.52L984.31 160.32L980.51 164.12ZM975.71 159.19L979.51 155.39L983.31 159.19L979.51 162.99ZM974.69 158.08L978.49 154.28L982.29 158.08L978.49 161.88ZM973.67 156.97L977.47 153.17L981.27 156.97L977.47 160.77ZM972.64 155.87L976.44 152.07L980.24 155.87L976.44 159.67ZM971.59 154.78L975.39 150.98L979.19 154.78L975.39 158.58ZM970.54 153.7L974.34 149.9L978.14 153.7L974.34 157.5ZM969.48 152.62L973.28 148.82L977.08 152.62L973.28 156.42ZM968.4 151.56L972.2 147.76L976 151.56L972.2 155.36ZM967.32 150.5L971.12 146.7L974.92 150.5L971.12 154.3ZM966.23 149.46L970.03 145.66L973.83 149.46L970.03 153.26ZM965.13 148.42L968.93 144.62L972.73 148.42L968.93 152.22ZM964.02 147.39L967.82 143.59L971.62 147.39L967.82 151.19ZM962.9 146.37L966.7 142.57L970.5 146.37L966.7 150.17ZM961.77 145.36L965.57 141.56L969.37 145.36L965.57 149.16ZM960.63 144.36L964.43 140.56L968.23 144.36L964.43 148.16ZM959.48 143.37L963.28 139.57L967.08 143.37L963.28 147.17ZM958.33 142.39L962.13 138.59L965.93 142.39L962.13 146.19ZM957.16 141.42L960.96 137.62L964.76 141.42L960.96 145.22ZM955.99 140.46L959.79 136.66L963.59 140.46L959.79 144.26ZM953.38 138.39L957.18 134.59L960.98 138.39L957.18 142.19ZM949.75 135.63L953.55 131.83L957.35 135.63L953.55 139.43ZM946.04 132.97L949.84 129.17L953.64 132.97L949.84 136.77ZM942.27 130.4L946.07 126.6L949.87 130.4L946.07 134.2ZM938.43 127.93L942.23 124.13L946.03 127.93L942.23 131.73ZM934.52 125.55L938.32 121.75L942.12 125.55L938.32 129.35ZM930.55 123.28L934.35 119.48L938.15 123.28L934.35 127.08ZM926.52 121.1L930.32 117.3L934.12 121.1L930.32 124.9ZM922.43 119.03L926.23 115.23L930.03 119.03L926.23 122.83ZM918.29 117.06L922.09 113.26L925.89 117.06L922.09 120.86ZM914.09 115.2L917.89 111.4L921.69 115.2L917.89 119ZM909.84 113.44L913.64 109.64L917.44 113.44L913.64 117.24ZM905.55 111.79L909.35 107.99L913.15 111.79L909.35 115.59ZM901.22 110.25L905.02 106.45L908.82 110.25L905.02 114.05ZM896.84 108.82L900.64 105.02L904.44 108.82L900.64 112.62ZM892.43 107.5L896.23 103.7L900.03 107.5L896.23 111.3ZM887.98 106.29L891.78 102.49L895.58 106.29L891.78 110.09ZM883.5 105.2L887.3 101.4L891.1 105.2L887.3 109ZM879 104.21L882.8 100.41L886.6 104.21L882.8 108.01ZM874.46 103.35L878.26 99.55L882.06 103.35L878.26 107.15ZM869.91 102.59L873.71 98.79L877.51 102.59L873.71 106.39ZM865.34 101.95L869.14 98.15L872.94 101.95L869.14 105.75ZM860.75 101.43L864.55 97.63L868.35 101.43L864.55 105.23ZM856.15 101.02L859.95 97.22L863.75 101.02L859.95 104.82ZM851.54 100.73L855.34 96.93L859.14 100.73L855.34 104.53ZM846.92 100.56L850.72 96.76L854.52 100.56L850.72 104.36ZM842.3 100.5L846.1 96.7L849.9 100.5L846.1 104.3ZM842.2 100.6L846 96.8L849.8 100.6L846 104.4ZM843.52 102.73L847.32 98.93L851.12 102.73L847.32 106.53ZM844.79 104.89L848.59 101.09L852.39 104.89L848.59 108.69ZM846.02 107.07L849.82 103.27L853.62 107.07L849.82 110.87ZM847.22 109.26L851.02 105.46L854.82 109.26L851.02 113.06ZM848.43 111.45L852.23 107.65L856.03 111.45L852.23 115.25ZM849.65 113.64L853.45 109.84L857.25 113.64L853.45 117.44ZM850.91 115.81L854.71 112.01L858.51 115.81L854.71 119.61ZM852.17 117.97L855.97 114.17L859.77 117.97L855.97 121.77ZM853.38 120.16L857.18 116.36L860.98 120.16L857.18 123.96ZM854.47 122.41L858.27 118.61L862.07 122.41L858.27 126.21ZM855.46 124.71L859.26 120.91L863.06 124.71L859.26 128.51ZM856.45 127.01L860.25 123.21L864.05 127.01L860.25 130.81ZM857.5 129.28L861.3 125.48L865.1 129.28L861.3 133.08ZM858.64 131.51L862.44 127.71L866.24 131.51L862.44 135.31ZM859.83 133.72L863.63 129.92L867.43 133.72L863.63 137.52ZM861.04 135.91L864.84 132.11L868.64 135.91L864.84 139.71ZM862.24 138.11L866.04 134.31L869.84 138.11L866.04 141.91ZM863.41 140.33L867.21 136.53L871.01 140.33L867.21 144.13ZM864.54 142.56L868.34 138.76L872.14 142.56L868.34 146.36ZM865.63 144.81L869.43 141.01L873.23 144.81L869.43 148.61ZM866.67 147.09L870.47 143.29L874.27 147.09L870.47 150.89ZM867.67 149.38L871.47 145.58L875.27 149.38L871.47 153.18ZM868.8 152.16L872.6 148.36L876.4 152.16L872.6 155.96ZM869.91 154.96L873.71 151.16L877.51 154.96L873.71 158.76ZM871.01 157.76L874.81 153.96L878.61 157.76L874.81 161.56ZM872.12 160.55L875.92 156.75L879.72 160.55L875.92 164.35ZM873.24 163.34L877.04 159.54L880.84 163.34L877.04 167.14ZM874.34 166.14L878.14 162.34L881.94 166.14L878.14 169.94ZM875.35 168.96L879.15 165.16L882.95 168.96L879.15 172.76ZM876.54 172.78L880.34 168.98L884.14 172.78L880.34 176.58ZM877.57 176.65L881.37 172.85L885.17 176.65L881.37 180.45ZM878.54 180.55L882.34 176.75L886.14 180.55L882.34 184.35ZM879.51 184.43L883.31 180.63L887.11 184.43L883.31 188.23ZM880.49 188.32L884.29 184.52L888.09 188.32L884.29 192.12ZM881.48 192.2L885.28 188.4L889.08 192.2L885.28 196ZM882.48 196.07L886.28 192.27L890.08 196.07L886.28 199.87ZM883.47 199.96L887.27 196.16L891.07 199.96L887.27 203.76ZM884.44 203.84L888.24 200.04L892.04 203.84L888.24 207.64ZM885.4 207.73L889.2 203.93L893 207.73L889.2 211.53ZM886.32 211.63L890.12 207.83L893.92 211.63L890.12 215.43ZM887.21 215.53L891.01 211.73L894.81 215.53L891.01 219.33ZM888.08 219.44L891.88 215.64L895.68 219.44L891.88 223.24ZM888.92 223.36L892.72 219.56L896.52 223.36L892.72 227.16ZM889.69 227.29L893.49 223.49L897.29 227.29L893.49 231.09ZM890.45 232.49L894.25 228.69L898.05 232.49L894.25 236.29ZM890.94 237.73L894.74 233.93L898.54 237.73L894.74 241.53ZM891.28 242.98L895.08 239.18L898.88 242.98L895.08 246.78ZM891.53 248.23L895.33 244.43L899.13 248.23L895.33 252.03ZM891.72 253.48L895.52 249.68L899.32 253.48L895.52 257.28ZM891.86 258.74L895.66 254.94L899.46 258.74L895.66 262.54ZM891.95 263.99L895.75 260.19L899.55 263.99L895.75 267.79ZM891.99 269.25L895.79 265.45L899.59 269.25L895.79 273.05ZM891.95 277.01L895.75 273.21L899.55 277.01L895.75 280.81ZM891.86 282.26L895.66 278.46L899.46 282.26L895.66 286.06ZM891.72 287.52L895.52 283.72L899.32 287.52L895.52 291.32ZM891.53 292.77L895.33 288.97L899.13 292.77L895.33 296.57ZM891.28 298.02L895.08 294.22L898.88 298.02L895.08 301.82ZM890.94 303.27L894.74 299.47L898.54 303.27L894.74 307.07ZM890.45 308.51L894.25 304.71L898.05 308.51L894.25 312.31ZM889.69 313.71L893.49 309.91L897.29 313.71L893.49 317.51ZM888.92 317.64L892.72 313.84L896.52 317.64L892.72 321.44ZM888.08 321.56L891.88 317.76L895.68 321.56L891.88 325.36ZM887.21 325.47L891.01 321.67L894.81 325.47L891.01 329.27ZM886.32 329.37L890.12 325.57L893.92 329.37L890.12 333.17ZM885.4 333.27L889.2 329.47L893 333.27L889.2 337.07ZM884.44 337.16L888.24 333.36L892.04 337.16L888.24 340.96ZM883.47 341.04L887.27 337.24L891.07 341.04L887.27 344.84ZM882.48 344.93L886.28 341.13L890.08 344.93L886.28 348.73ZM881.48 348.8L885.28 345L889.08 348.8L885.28 352.6ZM880.49 352.68L884.29 348.88L888.09 352.68L884.29 356.48ZM879.51 356.57L883.31 352.77L887.11 356.57L883.31 360.37ZM878.54 360.45L882.34 356.65L886.14 360.45L882.34 364.25ZM877.57 364.35L881.37 360.55L885.17 364.35L881.37 368.15ZM876.54 368.22L880.34 364.42L884.14 368.22L880.34 372.02ZM875.35 372.04L879.15 368.24L882.95 372.04L879.15 375.84ZM874.34 374.86L878.14 371.06L881.94 374.86L878.14 378.66ZM873.24 377.66L877.04 373.86L880.84 377.66L877.04 381.46ZM872.12 380.45L875.92 376.65L879.72 380.45L875.92 384.25ZM871.01 383.24L874.81 379.44L878.61 383.24L874.81 387.04ZM869.91 386.04L873.71 382.24L877.51 386.04L873.71 389.84ZM868.8 388.84L872.6 385.04L876.4 388.84L872.6 392.64ZM867.67 391.62L871.47 387.82L875.27 391.62L871.47 395.42ZM866.67 393.91L870.47 390.11L874.27 393.91L870.47 397.71ZM865.63 396.19L869.43 392.39L873.23 396.19L869.43 399.99ZM864.54 398.44L868.34 394.64L872.14 398.44L868.34 402.24ZM863.41 400.67L867.21 396.87L871.01 400.67L867.21 404.47ZM862.24 402.89L866.04 399.09L869.84 402.89L866.04 406.69ZM861.04 405.09L864.84 401.29L868.64 405.09L864.84 408.89ZM859.83 407.28L863.63 403.48L867.43 407.28L863.63 411.08ZM858.64 409.49L862.44 405.69L866.24 409.49L862.44 413.29ZM857.5 411.72L861.3 407.92L865.1 411.72L861.3 415.52ZM856.45 413.99L860.25 410.19L864.05 413.99L860.25 417.79ZM855.46 416.29L859.26 412.49L863.06 416.29L859.26 420.09ZM854.47 418.59L858.27 414.79L862.07 418.59L858.27 422.39ZM853.38 420.84L857.18 417.04L860.98 420.84L857.18 424.64ZM852.17 423.03L855.97 419.23L859.77 423.03L855.97 426.83ZM850.91 425.19L854.71 421.39L858.51 425.19L854.71 428.99ZM849.65 427.36L853.45 423.56L857.25 427.36L853.45 431.16ZM848.43 429.55L852.23 425.75L856.03 429.55L852.23 433.35ZM847.22 431.74L851.02 427.94L854.82 431.74L851.02 435.54ZM846.02 433.93L849.82 430.13L853.62 433.93L849.82 437.73ZM844.79 436.11L848.59 432.31L852.39 436.11L848.59 439.91ZM843.52 438.27L847.32 434.47L851.12 438.27L847.32 442.07ZM842.2 440.4L846 436.6L849.8 440.4L846 444.2Z" fill="#993300" shape-rendering="crispEdges"/>
<polyline points="846.1,100.5 841.48,100.56 836.86,100.73 832.25,101.02 827.65,101.43 823.06,101.95 818.49,102.59 813.94,103.35 809.4,104.21 804.9,105.2 800.42,106.29 795.97,107.5 791.56,108.82 787.18,110.25 782.85,111.79 778.56,113.44 774.31,115.2 770.11,117.06 765.97,119.03 761.88,121.1 757.85,123.28 753.88,125.55 749.97,127.93 746.13,130.4 742.36,132.97 738.65,135.63 735.02,138.39 731.47,141.23 728,144.17 724.61,147.19 721.3,150.29 718.07,153.48 714.93,156.75 711.89,160.09 708.93,163.52 706.07,167.01 703.31,170.58 700.64,174.21 698.07,177.91 695.61,181.68 693.25,185.5 690.99,189.38 688.84,193.32 686.79,197.31 684.86,201.35 683.04,205.44 681.32,209.58 679.72,213.75 678.24,217.97 676.87,222.22 675.61,226.5 674.48,230.81 673.46,235.16 672.56,239.52 671.77,243.91 671.11,248.31 670.57,252.73 670.14,257.16 669.84,261.6 669.66,266.05 669.6,270.5 669.66,274.95 669.84,279.4 670.14,283.84 670.57,288.27 671.11,292.69 671.77,297.09 672.56,301.48 673.46,305.84 674.48,310.19 675.61,314.5 676.87,318.78 678.24,323.03 679.72,327.25 681.32,331.42 683.04,335.56 684.86,339.65 686.79,343.69 688.84,347.68 690.99,351.62 693.25,355.5 695.61,359.32 698.07,363.09 700.64,366.79 703.31,370.42 706.07,373.99 708.93,377.48 711.89,380.91 714.93,384.25 718.07,387.52 721.3,390.71 724.61,393.81 728,396.83 731.47,399.77 735.02,402.61 738.65,405.37 742.36,408.03 746.13,410.6 749.97,413.07 753.88,415.45 757.85,417.72 761.88,419.9 765.97,421.97 770.11,423.94 774.31,425.8 778.56,427.56 782.85,429.21 787.18,430.75 791.56,432.18 795.97,433.5 800.42,434.71 804.9,435.8 809.4,436.79 813.94,437.65 818.49,438.41 823.06,439.05 827.65,439.57 832.25,439.98 836.86,440.27 841.48,440.44 846.1,440.5" fill="none" stroke="#ffff00" stroke-width="1" shape-rendering="crispEdges"/>
<polyline points="846,100.6 839.6,112.5 834.3,125.2 831.6,138.4 830.4,150.8 831.5,162.8 833.3,172.3 835.9,181.4 839.2,189.9 842.8,196.9 846.7,203.6 850.6,209.5 854.4,214.4 855.52,215.56 856.62,216.73 857.72,217.91 858.81,219.09 859.89,220.29 860.96,221.48 862.04,222.68 863.11,223.88 864.18,225.08 865.26,226.27 866.34,227.47 867.43,228.65 868.53,229.83 869.65,230.99 870.78,232.14 871.93,233.26 873.1,234.36 874.3,235.43 875.53,236.47 876.77,237.49 878.04,238.48 879.32,239.46 880.61,240.42 881.91,241.37 883.22,242.32 884.53,243.25 885.85,244.17 887.17,245.09 888.5,246 889.83,246.89 891.17,247.79 892.5,248.68 893.83,249.6 895.14,250.53 896.43,251.5 897.7,252.5 898.94,253.55 900.12,254.66 901.24,255.82 902.27,257.05 903.21,258.36 904.05,259.73 904.78,261.17 905.42,262.66 905.96,264.18 906.4,265.74 906.76,267.32 907.02,268.91 907.2,270.5 907.02,272.09 906.76,273.68 906.4,275.26 905.96,276.82 905.42,278.34 904.78,279.83 904.05,281.27 903.21,282.64 902.27,283.95 901.24,285.18 900.12,286.34 898.94,287.45 897.7,288.5 896.43,289.5 895.14,290.47 893.83,291.4 892.5,292.32 891.17,293.21 889.83,294.11 888.5,295 887.17,295.91 885.85,296.83 884.53,297.75 883.22,298.68 881.91,299.63 880.61,300.58 879.32,301.54 878.04,302.52 876.77,303.51 875.53,304.53 874.3,305.57 873.1,306.64 871.93,307.74 870.78,308.86 869.65,310.01 868.53,311.17 867.43,312.35 866.34,313.53 865.26,314.73 864.18,315.92 863.11,317.12 862.04,318.32 860.96,319.52 859.89,320.71 858.81,321.91 857.72,323.09 856.62,324.27 855.52,325.44 854.4,326.6 850.6,331.5 846.7,337.4 842.8,344.1 839.2,351.1 835.9,359.6 833.3,368.7 831.5,378.2 830.4,390.2 831.6,402.6 834.3,415.8 839.6,428.5 846,440.4" fill="none" stroke="#ffff00" stroke-width="1" shape-rendering="crispEdges"/>
<path d="M842.1 100.5L846.1 96.5L850.1 100.5L846.1 104.5ZM837.48 100.56L841.48 96.56L845.48 100.56L841.48 104.56ZM832.86 100.73L836.86 96.73L840.86 100.73L836.86 104.73ZM828.25 101.02L832.25 97.02L836.25 101.02L832.25 105.02ZM823.65 101.43L827.65 97.43L831.65 101.43L827.65 105.43ZM819.06 101.95L823.06 97.95L827.06 101.95L823.06 105.95ZM814.49 102.59L818.49 98.59L822.49 102.59L818.49 106.59ZM809.94 103.35L813.94 99.35L817.94 103.35L813.94 107.35ZM805.4 104.21L809.4 100.21L813.4 104.21L809.4 108.21ZM800.9 105.2L804.9 101.2L808.9 105.2L804.9 109.2ZM796.42 106.29L800.42 102.29L804.42 106.29L800.42 110.29ZM791.97 107.5L795.97 103.5L799.97 107.5L795.97 111.5ZM787.56 108.82L791.56 104.82L795.56 108.82L791.56 112.82ZM783.18 110.25L787.18 106.25L791.18 110.25L787.18 114.25ZM778.85 111.79L782.85 107.79L786.85 111.79L782.85 115.79ZM774.56 113.44L778.56 109.44L782.56 113.44L778.56 117.44ZM770.31 115.2L774.31 111.2L778.31 115.2L774.31 119.2ZM766.11 117.06L770.11 113.06L774.11 117.06L770.11 121.06ZM761.97 119.03L765.97 115.03L769.97 119.03L765.97 123.03ZM757.88 121.1L761.88 117.1L765.88 121.1L761.88 125.1ZM753.85 123.28L757.85 119.28L761.85 123.28L757.85 127.28ZM749.88 125.55L753.88 121.55L757.88 125.55L753.88 129.55ZM745.97 127.93L749.97 123.93L753.97 127.93L749.97 131.93ZM742.13 130.4L746.13 126.4L750.13 130.4L746.13 134.4ZM738.36 132.97L742.36 128.97L746.36 132.97L742.36 136.97ZM734.65 135.63L738.65 131.63L742.65 135.63L738.65 139.63ZM731.02 138.39L735.02 134.39L739.02 138.39L735.02 142.39ZM727.47 141.23L731.47 137.23L735.47 141.23L731.47 145.23ZM724 144.17L728 140.17L732 144.17L728 148.17ZM720.61 147.19L724.61 143.19L728.61 147.19L724.61 151.19ZM717.3 150.29L721.3 146.29L725.3 150.29L721.3 154.29ZM714.07 153.48L718.07 149.48L722.07 153.48L718.07 157.48ZM710.93 156.75L714.93 152.75L718.93 156.75L714.93 160.75ZM707.89 160.09L711.89 156.09L715.89 160.09L711.89 164.09ZM704.93 163.52L708.93 159.52L712.93 163.52L708.93 167.52ZM702.07 167.01L706.07 163.01L710.07 167.01L706.07 171.01ZM699.31 170.58L703.31 166.58L707.31 170.58L703.31 174.58ZM696.64 174.21L700.64 170.21L704.64 174.21L700.64 178.21ZM694.07 177.91L698.07 173.91L702.07 177.91L698.07 181.91ZM691.61 181.68L695.61 177.68L699.61 181.68L695.61 185.68ZM689.25 185.5L693.25 181.5L697.25 185.5L693.25 189.5ZM686.99 189.38L690.99 185.38L694.99 189.38L690.99 193.38ZM684.84 193.32L688.84 189.32L692.84 193.32L688.84 197.32ZM682.79 197.31L686.79 193.31L690.79 197.31L686.79 201.31ZM680.86 201.35L684.86 197.35L688.86 201.35L684.86 205.35ZM679.04 205.44L683.04 201.44L687.04 205.44L683.04 209.44ZM677.32 209.58L681.32 205.58L685.32 209.58L681.32 213.58ZM675.72 213.75L679.72 209.75L683.72 213.75L679.72 217.75ZM674.24 217.97L678.24 213.97L682.24 217.97L678.24 221.97ZM672.87 222.22L676.87 218.22L680.87 222.22L676.87 226.22ZM671.61 226.5L675.61 222.5L679.61 226.5L675.61 230.5ZM670.48 230.81L674.48 226.81L678.48 230.81L674.48 234.81ZM669.46 235.16L673.46 231.16L677.46 235.16L673.46 239.16ZM668.56 239.52L672.56 235.52L676.56 239.52L672.56 243.52ZM667.77 243.91L671.77 239.91L675.77 243.91L671.77 247.91ZM667.11 248.31L671.11 244.31L675.11 248.31L671.11 252.31ZM666.57 252.73L670.57 248.73L674.57 252.73L670.57 256.73ZM666.14 257.16L670.14 253.16L674.14 257.16L670.14 261.16ZM665.84 261.6L669.84 257.6L673.84 261.6L669.84 265.6ZM665.66 266.05L669.66 262.05L673.66 266.05L669.66 270.05ZM665.6 270.5L669.6 266.5L673.6 270.5L669.6 274.5ZM665.66 274.95L669.66 270.95L673.66 274.95L669.66 278.95ZM665.84 279.4L669.84 275.4L673.84 279.4L669.84 283.4ZM666.14 283.84L670.14 279.84L674.14 283.84L670.14 287.84ZM666.57 288.27L670.57 284.27L674.57 288.27L670.57 292.27ZM667.11 292.69L671.11 288.69L675.11 292.69L671.11 296.69ZM667.77 297.09L671.77 293.09L675.77 297.09L671.77 301.09ZM668.56 301.48L672.56 297.48L676.56 301.48L672.56 305.48ZM669.46 305.84L673.46 301.84L677.46 305.84L673.46 309.84ZM670.48 310.19L674.48 306.19L678.48 310.19L674.48 314.19ZM671.61 314.5L675.61 310.5L679.61 314.5L675.61 318.5ZM672.87 318.78L676.87 314.78L680.87 318.78L676.87 322.78ZM674.24 323.03L678.24 319.03L682.24 323.03L678.24 327.03ZM675.72 327.25L679.72 323.25L683.72 327.25L679.72 331.25ZM677.32 331.42L681.32 327.42L685.32 331.42L681.32 335.42ZM679.04 335.56L683.04 331.56L687.04 335.56L683.04 339.56ZM680.86 339.65L684.86 335.65L688.86 339.65L684.86 343.65ZM682.79 343.69L686.79 339.69L690.79 343.69L686.79 347.69ZM684.84 347.68L688.84 343.68L692.84 347.68L688.84 351.68ZM686.99 351.62L690.99 347.62L694.99 351.62L690.99 355.62ZM689.25 355.5L693.25 351.5L697.25 355.5L693.25 359.5ZM691.61 359.32L695.61 355.32L699.61 359.32L695.61 363.32ZM694.07 363.09L698.07 359.09L702.07 363.09L698.07 367.09ZM696.64 366.79L700.64 362.79L704.64 366.79L700.64 370.79ZM699.31 370.42L703.31 366.42L707.31 370.42L703.31 374.42ZM702.07 373.99L706.07 369.99L710.07 373.99L706.07 377.99ZM704.93 377.48L708.93 373.48L712.93 377.48L708.93 381.48ZM707.89 380.91L711.89 376.91L715.89 380.91L711.89 384.91ZM710.93 384.25L714.93 380.25L718.93 384.25L714.93 388.25ZM714.07 387.52L718.07 383.52L722.07 387.52L718.07 391.52ZM717.3 390.71L721.3 386.71L725.3 390.71L721.3 394.71ZM720.61 393.81L724.61 389.81L728.61 393.81L724.61 397.81ZM724 396.83L728 392.83L732 396.83L728 400.83ZM727.47 399.77L731.47 395.77L735.47 399.77L731.47 403.77ZM731.02 402.61L735.02 398.61L739.02 402.61L735.02 406.61ZM734.65 405.37L738.65 401.37L742.65 405.37L738.65 409.37ZM738.36 408.03L742.36 404.03L746.36 408.03L742.36 412.03ZM742.13 410.6L746.13 406.6L750.13 410.6L746.13 414.6ZM745.97 413.07L749.97 409.07L753.97 413.07L749.97 417.07ZM749.88 415.45L753.88 411.45L757.88 415.45L753.88 419.45ZM753.85 417.72L757.85 413.72L761.85 417.72L757.85 421.72ZM757.88 419.9L761.88 415.9L765.88 419.9L761.88 423.9ZM761.97 421.97L765.97 417.97L769.97 421.97L765.97 425.97ZM766.11 423.94L770.11 419.94L774.11 423.94L770.11 427.94ZM770.31 425.8L774.31 421.8L778.31 425.8L774.31 429.8ZM774.56 427.56L778.56 423.56L782.56 427.56L778.56 431.56ZM778.85 429.21L782.85 425.21L786.85 429.21L782.85 433.21ZM783.18 430.75L787.18 426.75L791.18 430.75L787.18 434.75ZM787.56 432.18L791.56 428.18L795.56 432.18L791.56 436.18ZM791.97 433.5L795.97 429.5L799.97 433.5L795.97 437.5ZM796.42 434.71L800.42 430.71L804.42 434.71L800.42 438.71ZM800.9 435.8L804.9 431.8L808.9 435.8L804.9 439.8ZM805.4 436.79L809.4 432.79L813.4 436.79L809.4 440.79ZM809.94 437.65L813.94 433.65L817.94 437.65L813.94 441.65ZM814.49 438.41L818.49 434.41L822.49 438.41L818.49 442.41ZM819.06 439.05L823.06 435.05L827.06 439.05L823.06 443.05ZM823.65 439.57L827.65 435.57L831.65 439.57L827.65 443.57ZM828.25 439.98L832.25 435.98L836.25 439.98L832.25 443.98ZM832.86 440.27L836.86 436.27L840.86 440.27L836.86 444.27ZM837.48 440.44L841.48 436.44L845.48 440.44L841.48 444.44ZM842.1 440.5L846.1 436.5L850.1 440.5L846.1 444.5ZM842 100.6L846 96.6L850 100.6L846 104.6ZM835.6 112.5L839.6 108.5L843.6 112.5L839.6 116.5ZM830.3 125.2L834.3 121.2L838.3 125.2L834.3 129.2ZM827.6 138.4L831.6 134.4L835.6 138.4L831.6 142.4ZM826.4 150.8L830.4 146.8L834.4 150.8L830.4 154.8ZM827.5 162.8L831.5 158.8L835.5 162.8L831.5 166.8ZM829.3 172.3L833.3 168.3L837.3 172.3L833.3 176.3ZM831.9 181.4L835.9 177.4L839.9 181.4L835.9 185.4ZM835.2 189.9L839.2 185.9L843.2 189.9L839.2 193.9ZM838.8 196.9L842.8 192.9L846.8 196.9L842.8 200.9ZM842.7 203.6L846.7 199.6L850.7 203.6L846.7 207.6ZM846.6 209.5L850.6 205.5L854.6 209.5L850.6 213.5ZM850.4 214.4L854.4 210.4L858.4 214.4L854.4 218.4ZM851.52 215.56L855.52 211.56L859.52 215.56L855.52 219.56ZM852.62 216.73L856.62 212.73L860.62 216.73L856.62 220.73ZM853.72 217.91L857.72 213.91L861.72 217.91L857.72 221.91ZM854.81 219.09L858.81 215.09L862.81 219.09L858.81 223.09ZM855.89 220.29L859.89 216.29L863.89 220.29L859.89 224.29ZM856.96 221.48L860.96 217.48L864.96 221.48L860.96 225.48ZM858.04 222.68L862.04 218.68L866.04 222.68L862.04 226.68ZM859.11 223.88L863.11 219.88L867.11 223.88L863.11 227.88ZM860.18 225.08L864.18 221.08L868.18 225.08L864.18 229.08ZM861.26 226.27L865.26 222.27L869.26 226.27L865.26 230.27ZM862.34 227.47L866.34 223.47L870.34 227.47L866.34 231.47ZM863.43 228.65L867.43 224.65L871.43 228.65L867.43 232.65ZM864.53 229.83L868.53 225.83L872.53 229.83L868.53 233.83ZM865.65 230.99L869.65 226.99L873.65 230.99L869.65 234.99ZM866.78 232.14L870.78 228.14L874.78 232.14L870.78 236.14ZM867.93 233.26L871.93 229.26L875.93 233.26L871.93 237.26ZM869.1 234.36L873.1 230.36L877.1 234.36L873.1 238.36ZM870.3 235.43L874.3 231.43L878.3 235.43L874.3 239.43ZM871.53 236.47L875.53 232.47L879.53 236.47L875.53 240.47ZM872.77 237.49L876.77 233.49L880.77 237.49L876.77 241.49ZM874.04 238.48L878.04 234.48L882.04 238.48L878.04 242.48ZM875.32 239.46L879.32 235.46L883.32 239.46L879.32 243.46ZM876.61 240.42L880.61 236.42L884.61 240.42L880.61 244.42ZM877.91 241.37L881.91 237.37L885.91 241.37L881.91 245.37ZM879.22 242.32L883.22 238.32L887.22 242.32L883.22 246.32ZM880.53 243.25L884.53 239.25L888.53 243.25L884.53 247.25ZM881.85 244.17L885.85 240.17L889.85 244.17L885.85 248.17ZM883.17 245.09L887.17 241.09L891.17 245.09L887.17 249.09ZM884.5 246L888.5 242L892.5 246L888.5 250ZM885.83 246.89L889.83 242.89L893.83 246.89L889.83 250.89ZM887.17 247.79L891.17 243.79L895.17 247.79L891.17 251.79ZM888.5 248.68L892.5 244.68L896.5 248.68L892.5 252.68ZM889.83 249.6L893.83 245.6L897.83 249.6L893.83 253.6ZM891.14 250.53L895.14 246.53L899.14 250.53L895.14 254.53ZM892.43 251.5L896.43 247.5L900.43 251.5L896.43 255.5ZM893.7 252.5L897.7 248.5L901.7 252.5L897.7 256.5ZM894.94 253.55L898.94 249.55L902.94 253.55L898.94 257.55ZM896.12 254.66L900.12 250.66L904.12 254.66L900.12 258.66ZM897.24 255.82L901.24 251.82L905.24 255.82L901.24 259.82ZM898.27 257.05L902.27 253.05L906.27 257.05L902.27 261.05ZM899.21 258.36L903.21 254.36L907.21 258.36L903.21 262.36ZM900.05 259.73L904.05 255.73L908.05 259.73L904.05 263.73ZM900.78 261.17L904.78 257.17L908.78 261.17L904.78 265.17ZM901.42 262.66L905.42 258.66L909.42 262.66L905.42 266.66ZM901.96 264.18L905.96 260.18L909.96 264.18L905.96 268.18ZM902.4 265.74L906.4 261.74L910.4 265.74L906.4 269.74ZM902.76 267.32L906.76 263.32L910.76 267.32L906.76 271.32ZM903.02 268.91L907.02 264.91L911.02 268.91L907.02 272.91ZM903.2 270.5L907.2 266.5L911.2 270.5L907.2 274.5ZM903.02 272.09L907.02 268.09L911.02 272.09L907.02 276.09ZM902.76 273.68L906.76 269.68L910.76 273.68L906.76 277.68ZM902.4 275.26L906.4 271.26L910.4 275.26L906.4 279.26ZM901.96 276.82L905.96 272.82L909.96 276.82L905.96 280.82ZM901.42 278.34L905.42 274.34L909.42 278.34L905.42 282.34ZM900.78 279.83L904.78 275.83L908.78 279.83L904.78 283.83ZM900.05 281.27L904.05 277.27L908.05 281.27L904.05 285.27ZM899.21 282.64L903.21 278.64L907.21 282.64L903.21 286.64ZM898.27 283.95L902.27 279.95L906.27 283.95L902.27 287.95ZM897.24 285.18L901.24 281.18L905.24 285.18L901.24 289.18ZM896.12 286.34L900.12 282.34L904.12 286.34L900.12 290.34ZM894.94 287.45L898.94 283.45L902.94 287.45L898.94 291.45ZM893.7 288.5L897.7 284.5L901.7 288.5L897.7 292.5ZM892.43 289.5L896.43 285.5L900.43 289.5L896.43 293.5ZM891.14 290.47L895.14 286.47L899.14 290.47L895.14 294.47ZM889.83 291.4L893.83 287.4L897.83 291.4L893.83 295.4ZM888.5 292.32L892.5 288.32L896.5 292.32L892.5 296.32ZM887.17 293.21L891.17 289.21L895.17 293.21L891.17 297.21ZM885.83 294.11L889.83 290.11L893.83 294.11L889.83 298.11ZM884.5 295L888.5 291L892.5 295L888.5 299ZM883.17 295.91L887.17 291.91L891.17 295.91L887.17 299.91ZM881.85 296.83L885.85 292.83L889.85 296.83L885.85 300.83ZM880.53 297.75L884.53 293.75L888.53 297.75L884.53 301.75ZM879.22 298.68L883.22 294.68L887.22 298.68L883.22 302.68ZM877.91 299.63L881.91 295.63L885.91 299.63L881.91 303.63ZM876.61 300.58L880.61 296.58L884.61 300.58L880.61 304.58ZM875.32 301.54L879.32 297.54L883.32 301.54L879.32 305.54ZM874.04 302.52L878.04 298.52L882.04 302.52L878.04 306.52ZM872.77 303.51L876.77 299.51L880.77 303.51L876.77 307.51ZM871.53 304.53L875.53 300.53L879.53 304.53L875.53 308.53ZM870.3 305.57L874.3 301.57L878.3 305.57L874.3 309.57ZM869.1 306.64L873.1 302.64L877.1 306.64L873.1 310.64ZM867.93 307.74L871.93 303.74L875.93 307.74L871.93 311.74ZM866.78 308.86L870.78 304.86L874.78 308.86L870.78 312.86ZM865.65 310.01L869.65 306.01L873.65 310.01L869.65 314.01ZM864.53 311.17L868.53 307.17L872.53 311.17L868.53 315.17ZM863.43 312.35L867.43 308.35L871.43 312.35L867.43 316.35ZM862.34 313.53L866.34 309.53L870.34 313.53L866.34 317.53ZM861.26 314.73L865.26 310.73L869.26 314.73L865.26 318.73ZM860.18 315.92L864.18 311.92L868.18 315.92L864.18 319.92ZM859.11 317.12L863.11 313.12L867.11 317.12L863.11 321.12ZM858.04 318.32L862.04 314.32L866.04 318.32L862.04 322.32ZM856.96 319.52L860.96 315.52L864.96 319.52L860.96 323.52ZM855.89 320.71L859.89 316.71L863.89 320.71L859.89 324.71ZM854.81 321.91L858.81 317.91L862.81 321.91L858.81 325.91ZM853.72 323.09L857.72 319.09L861.72 323.09L857.72 327.09ZM852.62 324.27L856.62 320.27L860.62 324.27L856.62 328.27ZM851.52 325.44L855.52 321.44L859.52 325.44L855.52 329.44ZM850.4 326.6L854.4 322.6L858.4 326.6L854.4 330.6ZM846.6 331.5L850.6 327.5L854.6 331.5L850.6 335.5ZM842.7 337.4L846.7 333.4L850.7 337.4L846.7 341.4ZM838.8 344.1L842.8 340.1L846.8 344.1L842.8 348.1ZM835.2 351.1L839.2 347.1L843.2 351.1L839.2 355.1ZM831.9 359.6L835.9 355.6L839.9 359.6L835.9 363.6ZM829.3 368.7L833.3 364.7L837.3 368.7L833.3 372.7ZM827.5 378.2L831.5 374.2L835.5 378.2L831.5 382.2ZM826.4 390.2L830.4 386.2L834.4 390.2L830.4 394.2ZM827.6 402.6L831.6 398.6L835.6 402.6L831.6 406.6ZM830.3 415.8L834.3 411.8L838.3 415.8L834.3 419.8ZM835.6 428.5L839.6 424.5L843.6 428.5L839.6 432.5ZM842 440.4L846 436.4L850 440.4L846 444.4Z" fill="#ffff99" shape-rendering="crispEdges"/>
<text x="623.5" y="290" font-size="11.4" text-anchor="middle" fill="#000">-4</text>
<text x="687.5" y="290" font-size="11.4" text-anchor="middle" fill="#000">-3.5</text>
<text x="751.5" y="290" font-size="11.4" text-anchor="middle" fill="#000">-3</text>
<text x="815.5" y="290" font-size="11.4" text-anchor="middle" fill="#000">-2.5</text>
<text x="879.5" y="290" font-size="11.4" text-anchor="middle" fill="#000">-2</text>
<text x="942.5" y="290" font-size="11.4" text-anchor="middle" fill="#000">-1.5</text>
<text x="1006.5" y="290" font-size="11.4" text-anchor="middle" fill="#000">-1</text>
<text x="1070.5" y="290" font-size="11.4" text-anchor="middle" fill="#000">-0.5</text>
<text x="1134.5" y="290" font-size="11.4" text-anchor="middle" fill="#000">0</text>
<text x="1126.5" y="27.6" font-size="11.4" text-anchor="end" fill="#000">2</text>
<text x="1126.5" y="89.6" font-size="11.4" text-anchor="end" fill="#000">1.5</text>
<text x="1126.5" y="150.6" font-size="11.4" text-anchor="end" fill="#000">1</text>
<text x="1126.5" y="212.6" font-size="11.4" text-anchor="end" fill="#000">0.5</text>
<text x="1126.5" y="273.6" font-size="11.4" text-anchor="end" fill="#000">0</text>
<text x="1126.5" y="335.6" font-size="11.4" text-anchor="end" fill="#000">-0.5</text>
<text x="1126.5" y="396.6" font-size="11.4" text-anchor="end" fill="#000">-1</text>
<text x="1126.5" y="458.6" font-size="11.4" text-anchor="end" fill="#000">-1.5</text>
<text x="1126.5" y="519.6" font-size="11.4" text-anchor="end" fill="#000">-2</text>
<text x="881.5" y="17.2" font-size="13" text-anchor="middle" textLength="269.7" lengthAdjust="spacing" fill="#000">inverse hexation base(e) without theta mapping</text>
</svg>
</body></html>
